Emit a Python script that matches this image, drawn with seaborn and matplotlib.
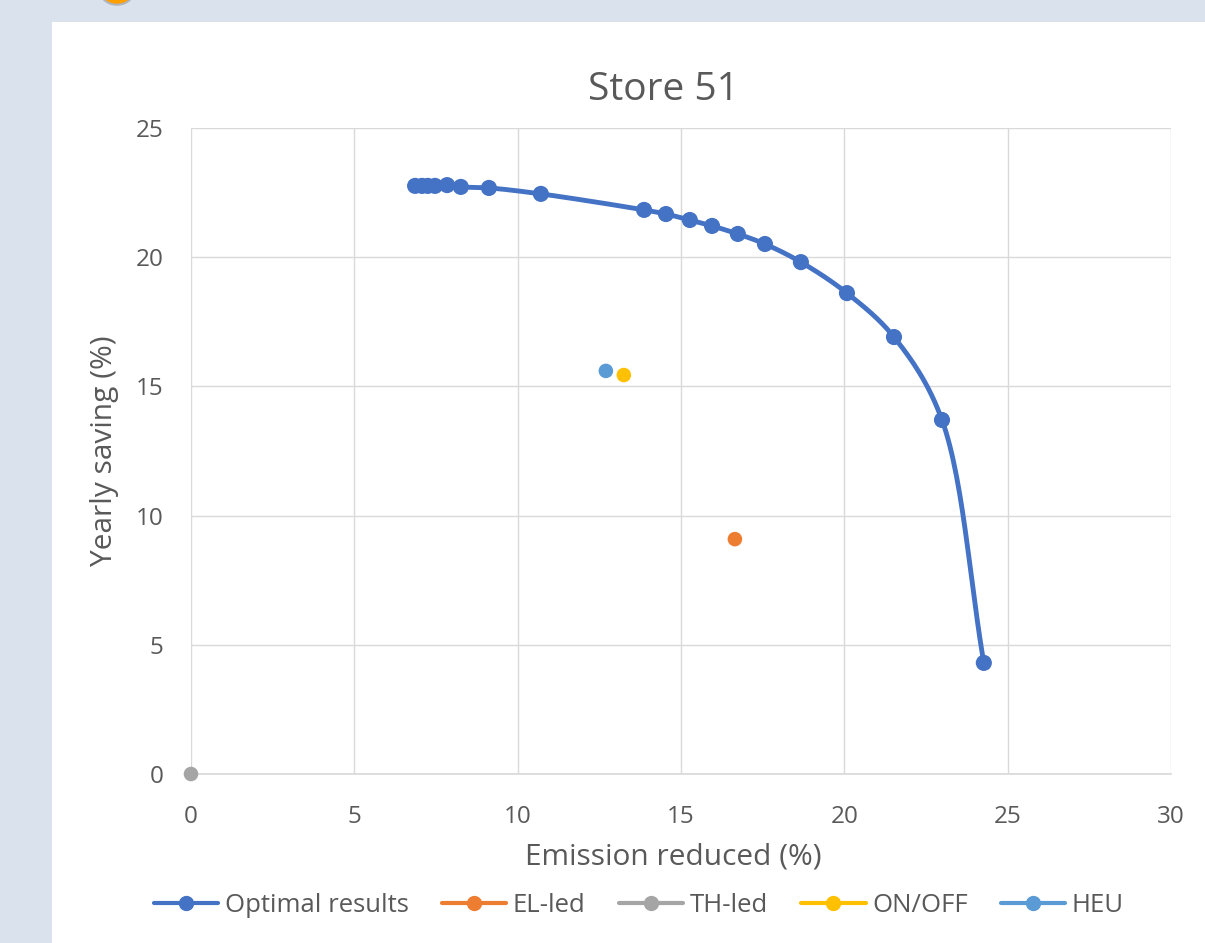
import numpy as np
import pandas as pd
import matplotlib
matplotlib.use("Agg")
import matplotlib.pyplot as plt
from matplotlib.lines import Line2D
from matplotlib.patches import Circle, Rectangle
import seaborn as sns

# ---- data ----
opt_emission = [6.86, 7.07, 7.25, 7.47, 7.84, 8.26, 9.12, 10.71, 13.87, 14.54,
                15.27, 15.95, 16.74, 17.57, 18.67, 20.08, 21.52, 22.99, 24.27]
opt_saving = [22.76, 22.76, 22.76, 22.76, 22.79, 22.72, 22.68, 22.45, 21.83, 21.67,
              21.44, 21.21, 20.90, 20.51, 19.81, 18.61, 16.91, 13.70, 4.30]
single_names = ["EL-led", "TH-led", "ON/OFF", "HEU"]
single_emission = [16.65, 0.0, 13.25, 12.70]
single_saving = [9.09, 0.0, 15.44, 15.60]
x_ticks = [0, 5, 10, 15, 20, 25, 30]
y_ticks = [0, 5, 10, 15, 20, 25]

colors = {"Optimal results": "#4472C4", "EL-led": "#ED7D31", "TH-led": "#A5A5A5",
          "ON/OFF": "#FFC000", "HEU": "#5B9BD5"}

sns.set_theme(style="white")
plt.rcParams['font.family'] = ['Open Sans', 'DejaVu Sans']

TXT = "#595959"
W, H = 1205, 943
fig = plt.figure(figsize=(W / 100, H / 100), dpi=100)
fig.patch.set_facecolor("#DAE2EE")
fig.patches.append(Rectangle((52 / W, 0), 1 - 52 / W, 1 - 22 / H, transform=fig.transFigure,
                             facecolor="white", edgecolor="none", zorder=-10))
fig.patches.append(Circle((117 / W, 1 + 8 / H), 0.0135, transform=fig.transFigure,
                          facecolor="#FF9F00", edgecolor="#B0B4BC", linewidth=1.5, zorder=-9))

ax = fig.add_axes([191 / W, 1 - 774 / H, (1171 - 191) / W, (774 - 128) / H])
ax.set_facecolor("none")
ax.set_xlim(0, 30)
ax.set_ylim(0, 25)


def centripetal_cr(px, py, n=30):
    # smooth curve through the data points (display scaling)
    sx, sy = 1 / 30.0 * 980, 1 / 25.0 * 646
    P = np.column_stack([np.asarray(px) * sx, np.asarray(py) * sy])
    P = np.vstack([2 * P[0] - P[1], P, 2 * P[-1] - P[-2]])
    out = []
    for i in range(1, len(P) - 2):
        p0, p1, p2, p3 = P[i - 1], P[i], P[i + 1], P[i + 2]
        a = 0.5
        t0 = 0
        t1 = t0 + max(np.linalg.norm(p1 - p0), 1e-6) ** a
        t2 = t1 + max(np.linalg.norm(p2 - p1), 1e-6) ** a
        t3 = t2 + max(np.linalg.norm(p3 - p2), 1e-6) ** a
        t = np.linspace(t1, t2, n)[:, None]
        A1 = (t1 - t) / (t1 - t0) * p0 + (t - t0) / (t1 - t0) * p1
        A2 = (t2 - t) / (t2 - t1) * p1 + (t - t1) / (t2 - t1) * p2
        A3 = (t3 - t) / (t3 - t2) * p2 + (t - t2) / (t3 - t2) * p3
        B1 = (t2 - t) / (t2 - t0) * A1 + (t - t0) / (t2 - t0) * A2
        B2 = (t3 - t) / (t3 - t1) * A2 + (t - t1) / (t3 - t1) * A3
        C = (t2 - t) / (t2 - t1) * B1 + (t - t1) / (t2 - t1) * B2
        out.append(C)
    C = np.vstack(out)
    return C[:, 0] / sx, C[:, 1] / sy


cx, cy = centripetal_cr(opt_emission, opt_saving)
curve = pd.DataFrame({"x": cx, "y": cy})
sns.lineplot(data=curve, x="x", y="y", sort=False, color=colors["Optimal results"],
             linewidth=3.5, ax=ax, zorder=3, estimator=None)

opt_df = pd.DataFrame({"x": opt_emission, "y": opt_saving})
sns.scatterplot(data=opt_df, x="x", y="y", color=colors["Optimal results"], s=135,
                edgecolor="none", ax=ax, zorder=4)

single_df = pd.DataFrame({"x": single_emission, "y": single_saving, "name": single_names})
sns.scatterplot(data=single_df, x="x", y="y", hue="name", palette=colors,
                hue_order=single_names, s=110, edgecolor="none", ax=ax, zorder=5,
                legend=False, clip_on=False)

ax.set_xticks(x_ticks)
ax.set_yticks(y_ticks)
ax.grid(True, color="#D9D9D9", linewidth=1)
for s in ["top", "right", "left"]:
    ax.spines[s].set_visible(False)
ax.spines["bottom"].set_color("#D9D9D9")
ax.tick_params(axis="both", length=0, labelsize=17.5, labelcolor=TXT)
ax.tick_params(axis="x", pad=22)
ax.tick_params(axis="y", pad=20)
ax.set_xlabel("Emission reduced (%)", fontsize=21.5, color=TXT)
ax.xaxis.set_label_coords((673 - 191) / (1171 - 191), -(857 - 774) / (774 - 128))
ax.xaxis.label.set_va("center")
ax.set_ylabel("Yearly saving (%)", fontsize=21.5, color=TXT, labelpad=12)
fig.text(663 / W, 1 - 90 / H, "Store 51", fontsize=28, color=TXT, ha="center", va="center")

handles = [Line2D([0], [0], color=colors[k], linewidth=3, marker="o", markersize=10)
           for k in ["Optimal results"] + single_names]
fig.legend(handles, ["Optimal results"] + single_names, loc="center",
           bbox_to_anchor=(639 / W, 1 - 905 / H), ncol=5, frameon=False,
           fontsize=18.5, labelcolor=TXT, handlelength=2.5, handletextpad=0.25,
           columnspacing=1.3, borderpad=0)

fig.savefig("out.png", dpi=100)
